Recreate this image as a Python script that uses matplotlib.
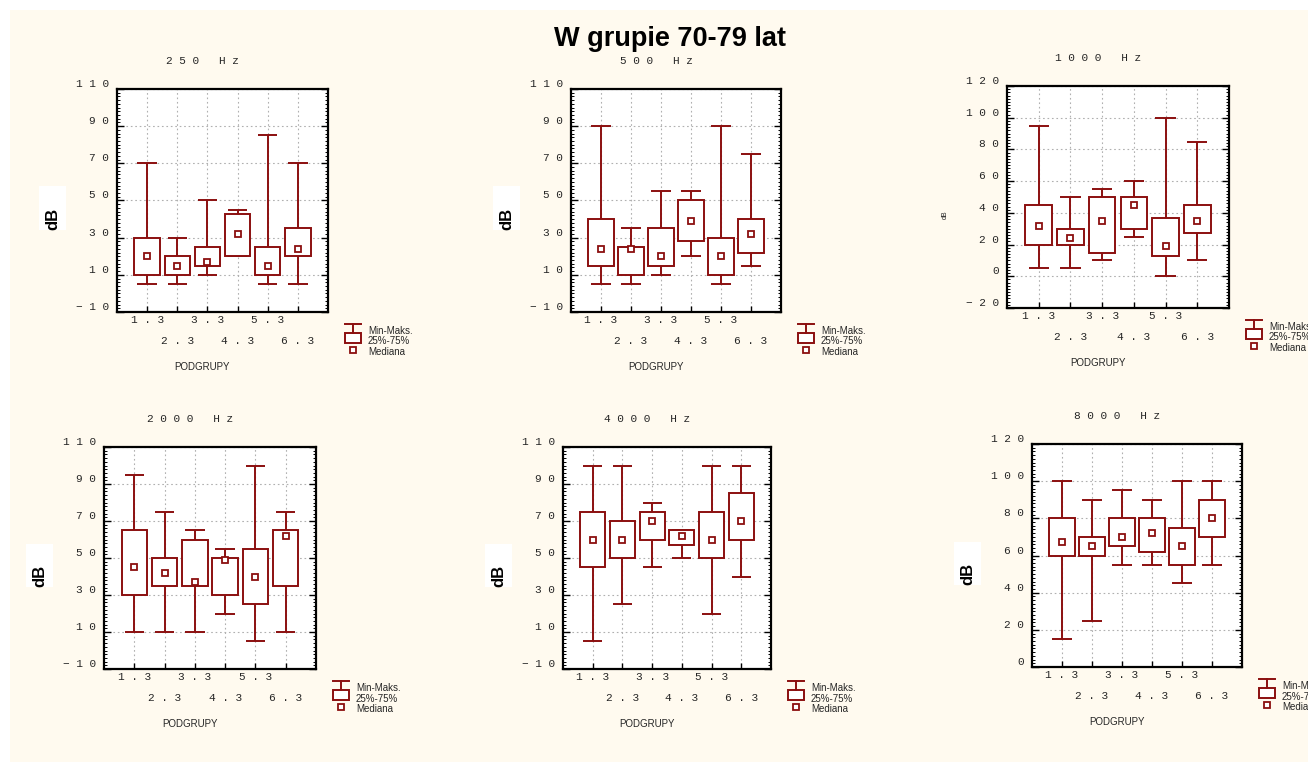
import matplotlib
matplotlib.use('Agg')
import matplotlib.pyplot as plt
from matplotlib.patches import Rectangle
from matplotlib.lines import Line2D
from matplotlib.transforms import ScaledTranslation
from matplotlib.ticker import MultipleLocator

# hearing thresholds (dB) per subgroup, one row per test frequency
freqs = ['250', '500', '1000', '2000', '4000', '8000']
groups = ['1.3', '2.3', '3.3', '4.3', '5.3', '6.3']

vmin = [[5, 5, 10, 20, 5, 5],
        [5, 5, 10, 20, 5, 15],
        [5, 5, 10, 25, 0, 10],
        [10, 10, 10, 20, 5, 10],
        [5, 25, 45, 50, 20, 40],
        [15, 25, 55, 55, 45, 55]]
q25 = [[10, 10, 15, 20, 10, 20],
       [15, 10, 15, 28, 10, 22],
       [20, 20, 15, 30, 13, 27],
       [30, 35, 35, 30, 25, 35],
       [45, 50, 60, 57, 50, 60],
       [60, 60, 65, 62, 55, 70]]
median = [[20, 15, 17, 32, 15, 24],
          [24, 24, 20, 39, 20, 32],
          [32, 24, 35, 45, 19, 35],
          [45, 42, 37, 49, 40, 62],
          [60, 60, 70, 62, 60, 70],
          [67, 65, 70, 72, 65, 80]]
q75 = [[30, 20, 25, 43, 25, 35],
       [40, 25, 35, 50, 30, 40],
       [45, 30, 50, 50, 37, 45],
       [65, 50, 60, 50, 55, 65],
       [75, 70, 75, 65, 75, 85],
       [80, 70, 80, 80, 75, 90]]
vmax = [[70, 30, 50, 45, 85, 70],
        [90, 35, 55, 55, 90, 75],
        [95, 50, 55, 60, 100, 85],
        [95, 75, 65, 55, 100, 75],
        [100, 100, 80, 65, 100, 100],
        [100, 90, 95, 90, 100, 100]]

ylims = [(-10, 110), (-10, 110), (-20, 120), (-10, 110), (-10, 110), (0, 120)]

W, H = 1308, 762
RED = '#8b0f0f'
TXT = '#262626'

# panel frames in pixels: left, top, right, bottom
frames = [(117, 89, 328, 312), (571, 89, 781, 312), (1007, 86, 1229, 308),
          (104, 447, 316, 669), (563, 447, 771, 669), (1032, 444, 1242, 667)]


def fx(x):
    return x / W


def fy(y):
    return 1 - y / H


def spaced(s):
    return ' '.join(s.replace('-', '\u2212'))


fig = plt.figure(figsize=(W / 100, H / 100), dpi=100)
fig.patch.set_facecolor('white')
fig.add_artist(Rectangle((fx(10), 0), 1, fy(10), transform=fig.transFigure,
                         facecolor='#fffaef', edgecolor='none', zorder=-5))

fig.text(fx(670), fy(39), 'W grupie 70-79 lat', ha='center', va='center',
         family='Liberation Sans', fontsize=19.5, fontweight='bold', color='black')

mono = dict(family='Liberation Mono', fontsize=8, color=TXT)
sans = dict(family='Liberation Sans', fontsize=7, color=TXT)

for k, (l, t, r, b) in enumerate(frames):
    ax = fig.add_axes([fx(l), fy(b), (r - l) / W, (b - t) / H])
    ax.set_facecolor('white')
    lo, hi = ylims[k]
    ax.set_xlim(0, 7)
    ax.set_ylim(lo, hi)
    pos = list(range(1, len(groups) + 1))
    ax.set_xticks(pos)
    ax.set_xticklabels([])
    yt = list(range(lo, hi + 1, 20))
    ax.set_yticks(yt)
    ax.set_yticklabels([])
    ax.yaxis.set_minor_locator(MultipleLocator(2))
    ax.tick_params(axis='y', which='both', direction='in', left=True, right=True)
    ax.tick_params(axis='y', which='major', length=5, width=1)
    ax.tick_params(axis='y', which='minor', length=2.5, width=0.7)
    ax.tick_params(axis='x', direction='in', length=4, width=1)
    ax.grid(True, color='#b0b0b0', linestyle=(0, (1.5, 2.5)), linewidth=0.8)
    ax.set_axisbelow(True)
    for sp in ax.spines.values():
        sp.set_linewidth(1.6)
        sp.set_color('black')

    # boxes
    for i, x in enumerate(pos):
        ax.vlines(x, vmin[k][i], q25[k][i], color=RED, lw=1.4, zorder=2)
        ax.vlines(x, q75[k][i], vmax[k][i], color=RED, lw=1.4, zorder=2)
        ax.hlines([vmin[k][i], vmax[k][i]], x - 0.32, x + 0.32, color=RED, lw=1.4, zorder=2)
        ax.add_patch(Rectangle((x - 0.42, q25[k][i]), 0.84, q75[k][i] - q25[k][i],
                               facecolor='white', edgecolor=RED, lw=1.4, zorder=3))
        ax.plot(x, median[k][i], 's', ms=4, mfc='white', mec=RED, mew=1.3, zorder=4)

    # tick labels
    ytr = ax.get_yaxis_transform() + ScaledTranslation(-0.08, 0.05, fig.dpi_scale_trans)
    for v in yt:
        ax.text(0, v, spaced(str(v)), transform=ytr, ha='right', va='center', **mono)
    for i, x in enumerate(pos):
        dy = -0.08 if i % 2 == 0 else -0.29
        xtr = ax.get_xaxis_transform() + ScaledTranslation(0, dy, fig.dpi_scale_trans)
        ax.text(x, 0, spaced(groups[i]), transform=xtr, ha='center', va='center', **mono)

    cx = (l + r) / 2 - 20
    cy = (t + b) / 2
    fig.text(fx(cx), fy(t - 28), spaced(freqs[k] + ' Hz'), ha='center', va='center', **mono)
    fig.text(fx(cx), fy(b + 55), 'PODGRUPY', ha='center', va='center', **sans)

    if k == 2:
        fig.text(fx(l - 62), fy(cy + 18), 'dB', rotation=90, ha='center', va='center',
                 family='Liberation Sans', fontsize=5, color=TXT)
    else:
        fig.add_artist(Rectangle((fx(l - 78), fy(cy + 29)), 27 / W, 43 / H,
                                 transform=fig.transFigure, facecolor='white',
                                 edgecolor='none', zorder=1))
        fig.text(fx(l - 64), fy(cy + 18), 'dB', rotation=90, ha='center', va='center',
                 family='Liberation Sans', fontsize=12, fontweight='bold', color='black',
                 zorder=2)

    # legend
    x0, x1, xm = r + 17, r + 33, r + 25
    fig.add_artist(Line2D([fx(x0), fx(x1)], [fy(b + 12), fy(b + 12)], color=RED, lw=1.4))
    fig.add_artist(Line2D([fx(xm), fx(xm)], [fy(b + 12), fy(b + 21)], color=RED, lw=1.4))
    fig.add_artist(Rectangle((fx(x0), fy(b + 31)), 16 / W, 10 / H, transform=fig.transFigure,
                             facecolor='white', edgecolor=RED, lw=1.4))
    fig.add_artist(Line2D([fx(xm)], [fy(b + 38)], marker='s', ms=4, mfc='white',
                          mec=RED, mew=1.3, linestyle='none'))
    for j, lab in enumerate(['Min-Maks.', '25%-75%', 'Mediana']):
        fig.text(fx(r + 40), fy(b + 19 + 10.5 * j), lab, ha='left', va='center', **sans)

fig.savefig('out.png', dpi=100, facecolor=fig.get_facecolor())
